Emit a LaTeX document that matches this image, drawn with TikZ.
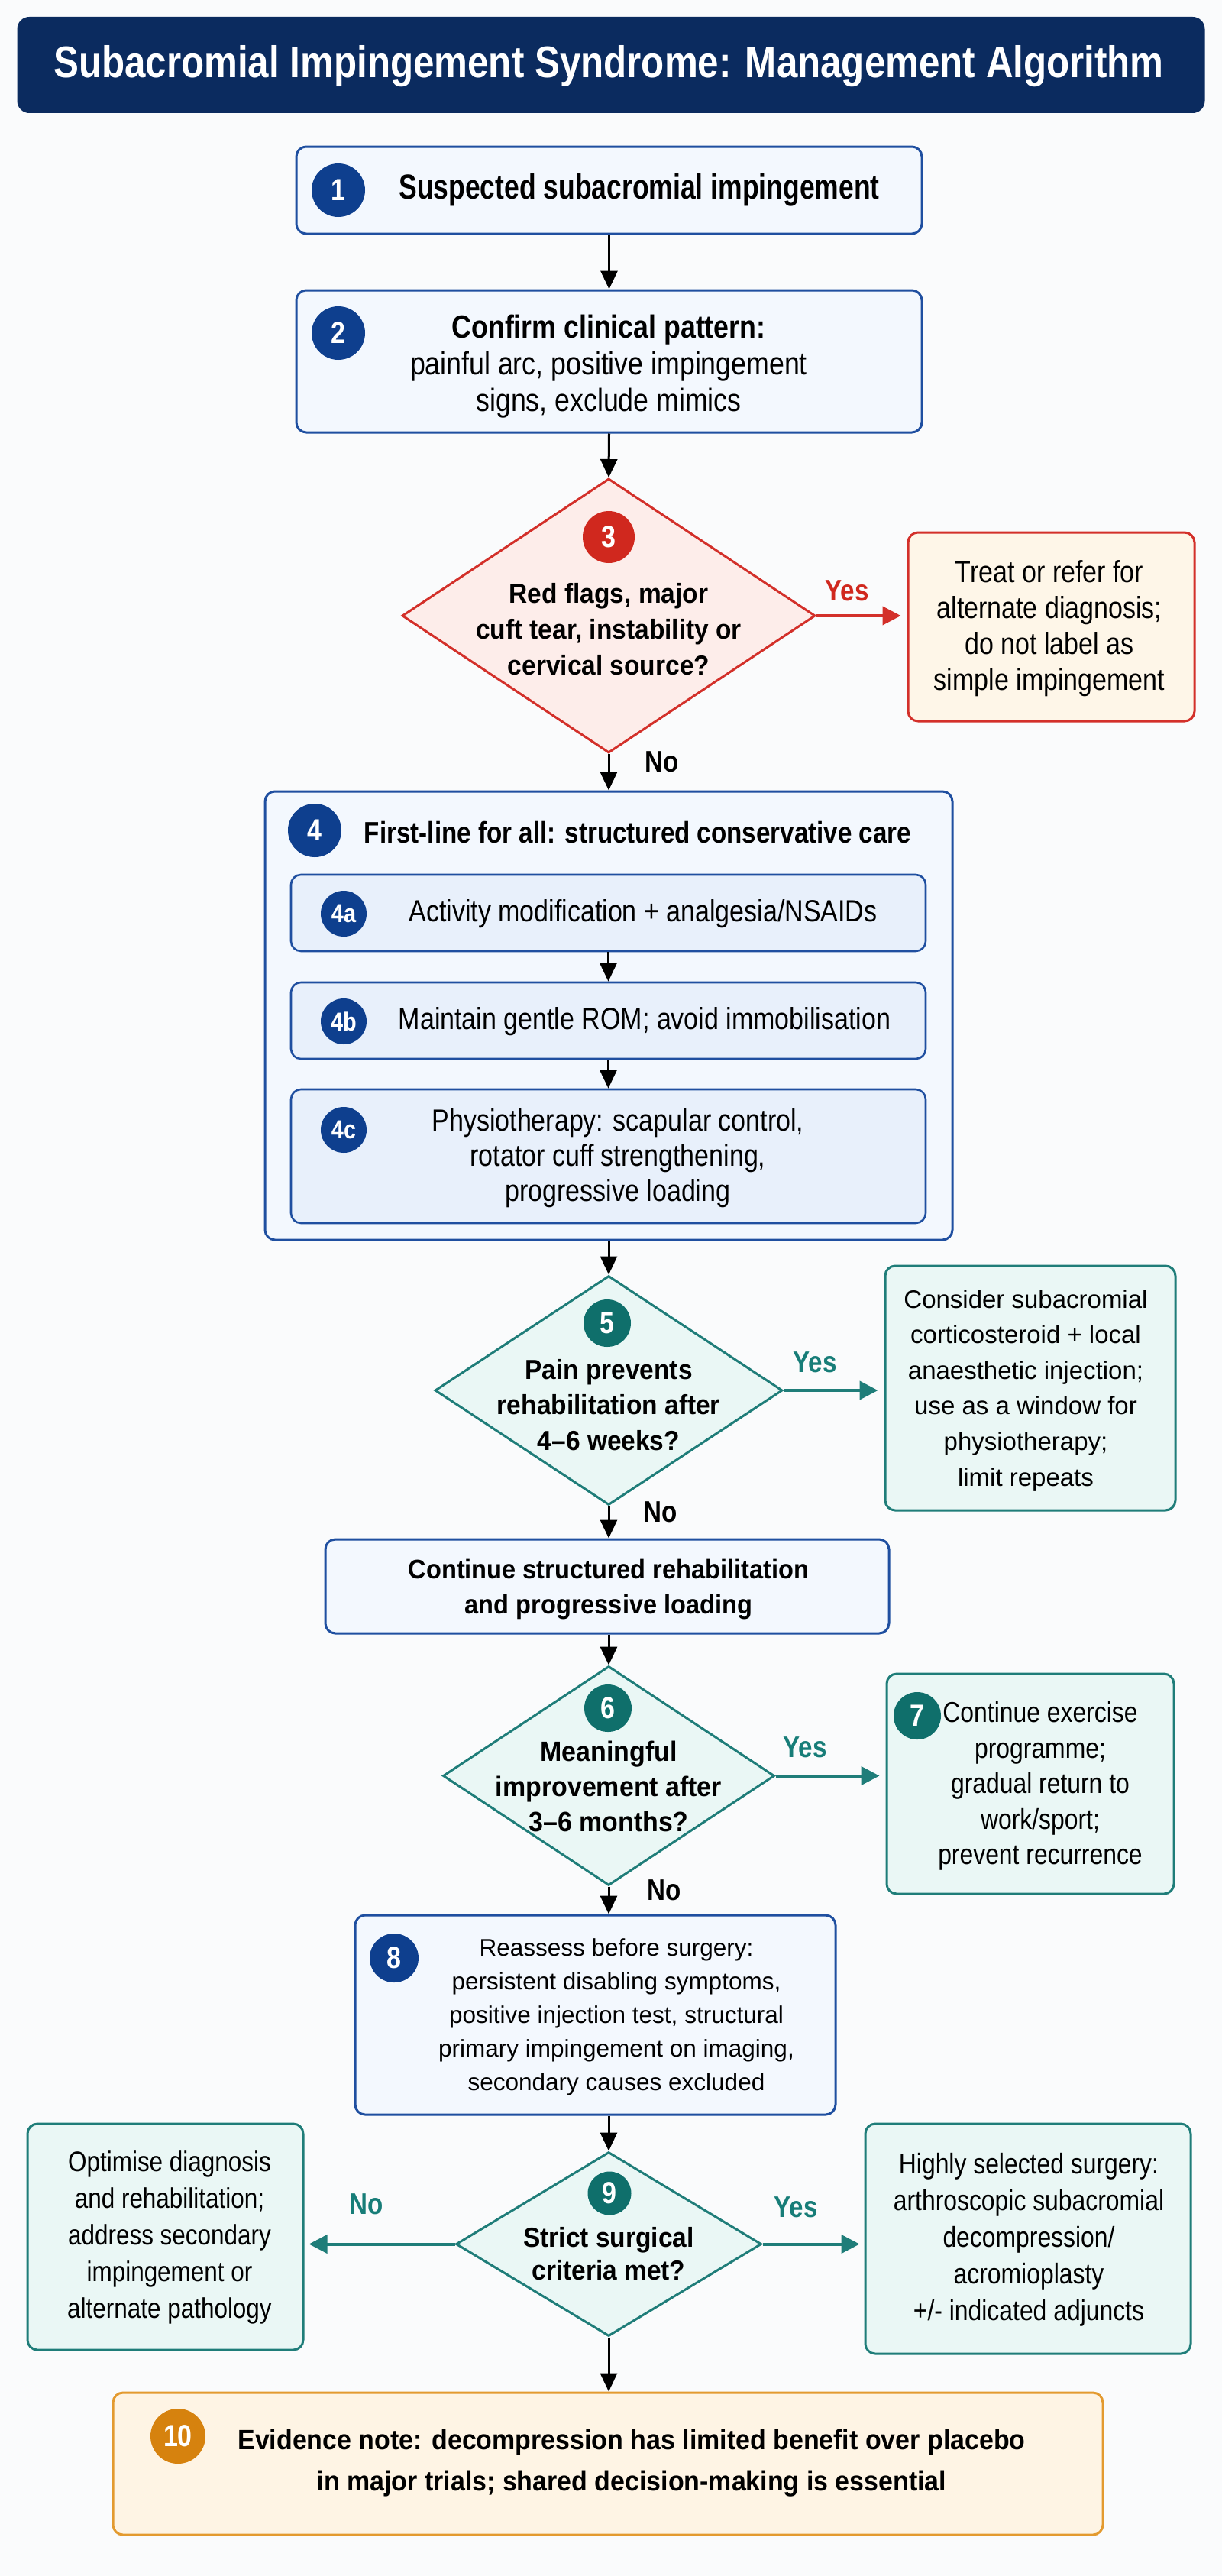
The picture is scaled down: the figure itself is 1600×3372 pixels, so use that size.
\documentclass[tikz,border=0pt]{standalone}
\usepackage{fontspec}
\setmainfont{Liberation Sans}[FakeStretch=0.85]
\newfontfamily\cf{Liberation Sans}[FakeStretch=0.78]
\newfontfamily\mf{Liberation Sans}[FakeStretch=0.93]
\newfontfamily\nf{Liberation Sans}
\usetikzlibrary{arrows.meta,shapes.geometric,calc}
\definecolor{navy}{HTML}{0B2B5F}
\definecolor{bluebd}{HTML}{1F4FA0}
\definecolor{bluefill}{HTML}{F3F8FE}
\definecolor{bluefilltwo}{HTML}{E8F0FB}
\definecolor{bluecirc}{HTML}{0E3F8E}
\definecolor{redbd}{HTML}{D3302A}
\definecolor{redfill}{HTML}{FDEDEA}
\definecolor{redcirc}{HTML}{D0281E}
\definecolor{creamfill}{HTML}{FEF6E8}
\definecolor{tealbd}{HTML}{1F7D79}
\definecolor{tealfill}{HTML}{EAF7F5}
\definecolor{tealcirc}{HTML}{0F6F6B}
\definecolor{tealtxt}{HTML}{177D78}
\definecolor{orgbd}{HTML}{E39A2F}
\definecolor{orgfill}{HTML}{FEF4E4}
\definecolor{orgcirc}{HTML}{D6820E}
\definecolor{bgcol}{HTML}{FAFBFC}
\newcommand{\fs}[2]{\fontsize{#1}{#2}\selectfont}
\tikzset{
  box/.style={draw, rounded corners=13pt, line width=3pt, inner sep=0pt, anchor=center},
  bluebox/.style={box, draw=bluebd, fill=bluefill},
  innerbox/.style={box, draw=bluebd, fill=bluefilltwo, line width=2.6pt},
  redbox/.style={box, draw=redbd, fill=creamfill},
  tealbox/.style={box, draw=tealbd, fill=tealfill},
  orgbox/.style={box, draw=orgbd, fill=orgfill},
  dia/.style={diamond, draw, line width=3pt, inner sep=0pt, anchor=center},
  num/.style={circle, inner sep=0pt, text=white, font=\bfseries\fs{40}{40}},
  txt/.style={align=center, inner sep=0pt, text=black},
  lab/.style={inner sep=0pt, font=\bfseries\fs{39}{39}},
  arr/.style={line width=3pt, -{Triangle[length=24pt,width=22pt]}},
  tarr/.style={line width=4pt, draw=tealbd, -{Triangle[length=24pt,width=24pt]}},
  rarr/.style={line width=4pt, draw=redbd, -{Triangle[length=24pt,width=24pt]}},
}
\begin{document}
\begin{tikzpicture}[x=1pt,y=-1pt]
\useasboundingbox (0,0) rectangle (1600,3372);
\fill[bgcol] (0,0) rectangle (1600,3372);

% title
\node[fill=navy, rounded corners=16pt, minimum width=1555, minimum height=126, inner sep=0pt] (title) at (800,85) {};
\node[text=white, font=\bfseries\fs{58}{60}, inner sep=0pt] (titletext) at (797,87) {Subacromial Impingement Syndrome: Management Algorithm};

% 1
\node[bluebox, minimum width=819, minimum height=114] (b1) at (797.5,249) {};
\node[num, fill=bluecirc, minimum size=70] (c1) at (443,249) {1};
\node[txt, font=\cf\bfseries\fs{45.5}{48}] (t1) at (837,249) {Suspected subacromial impingement};

% 2
\node[bluebox, minimum width=819, minimum height=186] (b2) at (797.5,473) {};
\node[num, fill=bluecirc, minimum size=70] (c2) at (443,436) {2};
\node[txt, font=\fs{42}{48}] (t2) at (797,480) {{\bfseries Confirm clinical pattern:}\\painful arc, positive impingement\\signs, exclude mimics};

% 3
\node[dia, draw=redbd, fill=redfill, minimum width=541, minimum height=359] (d3) at (797,806) {};
\node[num, fill=redcirc, minimum size=68] (c3) at (797,703) {3};
\node[txt, font=\mf\bfseries\fs{36}{47}] (t3) at (797,824) {Red flags, major\\cuft tear, instability or\\cervical source?};
\node[redbox, minimum width=375, minimum height=247] (r3) at (1376.5,820.5) {};
\node[txt, font=\fs{40}{47}] (tr3) at (1374,823) {Treat or refer for\\alternate diagnosis;\\do not label as\\simple impingement};
\node[lab, text=redcirc] (y3) at (1109,773) {Yes};
\node[lab, text=black] (n3) at (867,997) {No};

% 4
\node[bluebox, minimum width=900, minimum height=587] (b4) at (797,1329.5) {};
\node[num, fill=bluecirc, minimum size=70] (c4) at (412,1087) {4};
\node[txt, font=\bfseries\fs{39}{45}] (t4) at (835,1090) {First-line for all: structured conservative care};
\node[innerbox, minimum width=831, minimum height=100] (b4a) at (796.5,1195) {};
\node[num, fill=bluecirc, minimum size=60, font=\bfseries\fs{34}{34}] (c4a) at (450,1196) {4a};
\node[txt, font=\fs{40}{46}] (t4a) at (842,1196) {Activity modification + analgesia/NSAIDs};
\node[innerbox, minimum width=831, minimum height=100] (b4b) at (796.5,1336) {};
\node[num, fill=bluecirc, minimum size=60, font=\bfseries\fs{34}{34}] (c4b) at (450,1337) {4b};
\node[txt, font=\fs{40}{46}] (t4b) at (844,1337) {Maintain gentle ROM; avoid immobilisation};
\node[innerbox, minimum width=831, minimum height=175] (b4c) at (796.5,1513.5) {};
\node[num, fill=bluecirc, minimum size=60, font=\bfseries\fs{34}{34}] (c4c) at (450,1479) {4c};
\node[txt, font=\fs{40}{46}] (t4c) at (809,1516) {Physiotherapy: scapular control,\\rotator cuff strengthening,\\progressive loading};

% 5
\node[dia, draw=tealbd, fill=tealfill, minimum width=455, minimum height=300] (d5) at (797,1820) {};
\node[num, fill=tealcirc, minimum size=62] (c5) at (795,1732) {5};
\node[txt, font=\mf\bfseries\fs{36}{46.5}] (t5) at (797,1839) {Pain prevents\\rehabilitation after\\4–6 weeks?};
\node[tealbox, minimum width=380, minimum height=320] (b5y) at (1349,1817) {};
\node[txt, font=\nf\fs{33}{46.6}] (t5y) at (1343,1820) {Consider subacromial\\corticosteroid + local\\anaesthetic injection;\\use as a window for\\physiotherapy;\\limit repeats};
\node[lab, text=tealtxt] (y5) at (1067,1783) {Yes};
\node[lab, text=black] (n5) at (865,1979) {No};

% continue
\node[bluebox, minimum width=738, minimum height=123] (bc) at (795,2076.5) {};
\node[txt, font=\mf\bfseries\fs{35}{46}] (tc) at (797,2081) {Continue structured rehabilitation\\and progressive loading};

% 6
\node[dia, draw=tealbd, fill=tealfill, minimum width=434, minimum height=287] (d6) at (797,2324.5) {};
\node[num, fill=tealcirc, minimum size=62] (c6) at (796,2236) {6};
\node[txt, font=\mf\bfseries\fs{36.5}{46}] (t6) at (797,2338) {Meaningful\\improvement after\\3–6 months?};
\node[tealbox, minimum width=376, minimum height=288] (b7) at (1349,2335) {};
\node[num, fill=tealcirc, minimum size=62] (c7) at (1201,2246) {7};
\node[txt, font=\fs{37.5}{46.5}] (t7) at (1362,2338) {Continue exercise\\programme;\\gradual return to\\work/sport;\\prevent recurrence};
\node[lab, text=tealtxt] (y6) at (1054,2287) {Yes};
\node[lab, text=black] (n6) at (870,2474) {No};

% 8
\node[bluebox, minimum width=629, minimum height=261] (b8) at (779.5,2637.5) {};
\node[num, fill=bluecirc, minimum size=64] (c8) at (516,2563) {8};
\node[txt, font=\nf\fs{31.5}{44}] (t8) at (807,2640) {Reassess before surgery:\\persistent disabling symptoms,\\positive injection test, structural\\primary impingement on imaging,\\secondary causes excluded};

% 9
\node[dia, draw=tealbd, fill=tealfill, minimum width=400, minimum height=241] (d9) at (797,2937.5) {};
\node[num, fill=tealcirc, minimum size=57] (c9) at (798,2871) {9};
\node[txt, font=\mf\bfseries\fs{36}{43}] (t9) at (797,2950) {Strict surgical\\criteria met?};
\node[tealbox, minimum width=361, minimum height=296] (b9n) at (216.5,2928) {};
\node[txt, font=\fs{37}{48}] (t9n) at (222,2929) {Optimise diagnosis\\and rehabilitation;\\address secondary\\impingement or\\alternate pathology};
\node[tealbox, minimum width=426, minimum height=301] (b9y) at (1346,2930.5) {};
\node[txt, font=\fs{37.5}{48}] (t9y) at (1347,2932) {Highly selected surgery:\\arthroscopic subacromial\\decompression/\\acromioplasty\\+/- indicated adjuncts};
\node[lab, text=tealtxt] (n9) at (480,2885) {No};
\node[lab, text=tealtxt] (y9) at (1042,2889) {Yes};

% 10
\node[orgbox, minimum width=1296, minimum height=186] (b10) at (796,3225) {};
\node[num, fill=orgcirc, minimum size=72] (c10) at (233,3189) {10};
\node[txt, font=\mf\bfseries\fs{36.5}{54}] (t10) at (827,3224) {Evidence note: decompression has limited benefit over placebo\\in major trials; shared decision-making is essential};

% connectors
\draw[arr] (b1.south) -- (b2.north);
\draw[arr] (b2.south) -- (d3.north);
\draw[rarr] (d3.east) -- ($(d3.east -| r3.west)+(-8,0)$);
\draw[arr] (d3.south) -- (d3.south |- b4.north);
\draw[arr] (b4a.south) -- (b4b.north);
\draw[arr] (b4b.south) -- (b4c.north);
\draw[arr] (d5.north |- b4.south) -- (d5.north);
\draw[tarr] (d5.east) -- ($(d5.east -| b5y.west)+(-8,0)$);
\draw[arr] (d5.south) -- (d5.south |- bc.north);
\draw[arr] (d6.north |- bc.south) -- (d6.north);
\draw[tarr] (d6.east) -- ($(d6.east -| b7.west)+(-8,0)$);
\draw[arr] (d6.south) -- (d6.south |- b8.north);
\draw[arr] (d9.north |- b8.south) -- (d9.north);
\draw[tarr] (d9.west) -- ($(d9.west -| b9n.east)+(6,0)$);
\draw[tarr] (d9.east) -- ($(d9.east -| b9y.west)+(-6,0)$);
\draw[arr] (d9.south) -- (d9.south |- b10.north);
\end{tikzpicture}
\end{document}
